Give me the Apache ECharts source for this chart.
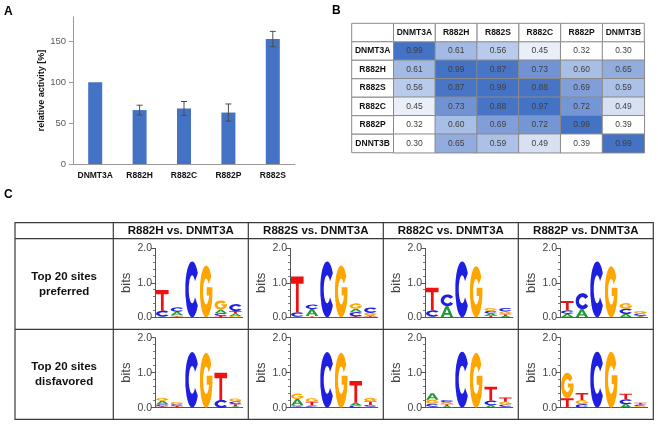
<!DOCTYPE html>
<html>
<head>
<meta charset="utf-8">
<script src="https://cdn.jsdelivr.net/npm/echarts@6/dist/echarts.min.js"></script>
<style>
  html, body { margin: 0; padding: 0; background: #fff; }
  #chart { width: 658px; height: 424px; }
</style>
</head>
<body>
<div id="chart"></div>
<script>
// ---- panel A: relative activity ----
const activityCategories = ['DNMT3A', 'R882H', 'R882C', 'R882P', 'R882S'];
const activityValues = [100, 66, 68, 63, 153];
const activityErrors = [0, 6, 8.5, 10.5, 9.4];
const activityTicks = [0, 50, 100, 150];

// ---- panel B: correlation table ----
const corrCols = ['DNMT3A', 'R882H', 'R882S', 'R882C', 'R882P', 'DNMT3B'];
const corrRows = ['DNMT3A', 'R882H', 'R882S', 'R882C', 'R882P', 'DNNT3B'];
const corrValues = [
  [0.99, 0.61, 0.56, 0.45, 0.32, 0.30],
  [0.61, 0.99, 0.87, 0.73, 0.60, 0.65],
  [0.56, 0.87, 0.99, 0.88, 0.69, 0.59],
  [0.45, 0.73, 0.88, 0.97, 0.72, 0.49],
  [0.32, 0.60, 0.69, 0.72, 0.99, 0.39],
  [0.30, 0.65, 0.59, 0.49, 0.39, 0.99]
];

// ---- panel C: sequence logos (each position: [letter, bits] from bottom to top) ----
const logoColTitles = ['R882H vs. DNMT3A', 'R882S vs. DNMT3A', 'R882C vs. DNMT3A', 'R882P vs. DNMT3A'];
const logoRowTitles = ['Top 20 sites\npreferred', 'Top 20 sites\ndisfavored'];
const logoPositions = ['1', '2', '3', '4', '5', '6'];
const bitsTicks = [0, 1, 2];

const logoR882HPreferred = [
  [['A', 0.02], ['C', 0.17], ['T', 0.6]],
  [['T', 0.03], ['G', 0.03], ['A', 0.1], ['C', 0.13]],
  [['C', 1.62]],
  [['G', 1.5]],
  [['T', 0.04], ['C', 0.08], ['A', 0.1], ['G', 0.27]],
  [['G', 0.04], ['A', 0.06], ['T', 0.08], ['C', 0.2]]
];
const logoR882SPreferred = [
  [['A', 0.02], ['C', 0.12], ['T', 1.04]],
  [['G', 0.02], ['T', 0.02], ['A', 0.2], ['C', 0.13]],
  [['C', 1.62]],
  [['G', 1.5]],
  [['T', 0.03], ['C', 0.12], ['A', 0.1], ['G', 0.15]],
  [['T', 0.03], ['A', 0.03], ['G', 0.07], ['C', 0.15]]
];
const logoR882CPreferred = [
  [['A', 0.02], ['C', 0.18], ['T', 0.66]],
  [['A', 0.32], ['C', 0.34]],
  [['C', 1.62]],
  [['G', 1.48]],
  [['T', 0.05], ['A', 0.06], ['C', 0.08], ['G', 0.08]],
  [['A', 0.04], ['T', 0.05], ['G', 0.08], ['C', 0.1]]
];
const logoR882PPreferred = [
  [['A', 0.1], ['C', 0.1], ['T', 0.27]],
  [['A', 0.23], ['C', 0.47]],
  [['C', 1.62]],
  [['G', 1.48]],
  [['A', 0.1], ['C', 0.15], ['G', 0.16]],
  [['A', 0.02], ['T', 0.03], ['C', 0.06], ['G', 0.07]]
];
const logoR882HDisfavored = [
  [['T', 0.04], ['C', 0.06], ['A', 0.1], ['G', 0.08]],
  [['A', 0.02], ['T', 0.03], ['C', 0.05], ['G', 0.06]],
  [['C', 1.59]],
  [['G', 1.57]],
  [['C', 0.22], ['T', 0.78]],
  [['A', 0.04], ['T', 0.06], ['C', 0.08], ['G', 0.08]]
];
const logoR882SDisfavored = [
  [['T', 0.03], ['C', 0.04], ['A', 0.18], ['G', 0.15]],
  [['A', 0.03], ['C', 0.03], ['T', 0.11], ['G', 0.1]],
  [['C', 1.59]],
  [['G', 1.57]],
  [['C', 0.06], ['A', 0.08], ['T', 0.62]],
  [['A', 0.03], ['C', 0.05], ['T', 0.1], ['G', 0.1]]
];
const logoR882CDisfavored = [
  [['T', 0.03], ['C', 0.08], ['G', 0.12], ['A', 0.18]],
  [['A', 0.05], ['T', 0.05], ['G', 0.06], ['C', 0.06]],
  [['C', 1.6]],
  [['G', 1.57]],
  [['A', 0.07], ['C', 0.13], ['T', 0.4]],
  [['A', 0.03], ['C', 0.06], ['G', 0.08], ['T', 0.12]]
];
const logoR882PDisfavored = [
  [['T', 0.27], ['G', 0.73]],
  [['C', 0.1], ['G', 0.12], ['T', 0.2]],
  [['C', 1.6]],
  [['G', 1.6]],
  [['A', 0.1], ['C', 0.14], ['T', 0.16]],
  [['A', 0.02], ['G', 0.03], ['C', 0.04], ['T', 0.05]]
];
const logoPanels = [
  logoR882HPreferred, logoR882SPreferred, logoR882CPreferred, logoR882PPreferred,
  logoR882HDisfavored, logoR882SDisfavored, logoR882CDisfavored, logoR882PDisfavored
];

// ---- styling ----
const FONT = '"Liberation Sans", Arial, sans-serif';
const LETTERS = ['A', 'C', 'G', 'T'];
const letterColors = { A: '#1e9a3a', C: '#1f1fe0', G: '#ffa500', T: '#f01010' };
const letterPaths = {
  A: 'M0,100 L38,0 L62,0 L100,100 L77,100 L69,77 L31,77 L23,100 Z M37,60 L63,60 L50,24 Z',
  C: 'M91,21.3 A50,50 0 1 0 91,78.7 L70.5,64.3 A25,25 0 1 1 70.5,35.7 Z',
  G: 'M91,21.3 A50,50 0 1 0 100,50 L100,42 L54,42 L54,58 L73.7,58 A25,25 0 1 1 70.5,35.7 Z',
  T: 'M0,0 L100,0 L100,20 L61,20 L61,100 L39,100 L39,20 L0,20 Z'
};

const chart = echarts.init(document.getElementById('chart'));

// grid layout
const grids = [
  { left: 73, top: 17, width: 222, height: 147, outerBoundsMode: 'none' },
  { left: 351.7, top: 23.3, width: 292.6, height: 129.4, outerBoundsMode: 'none' }
];
const logoLefts = [155, 290, 425, 560];
const logoTops = [248.3, 337.7];
const logoHeights = [69, 70];
logoPanels.forEach((_, k) => {
  const r = Math.floor(k / 4), c = k % 4;
  grids.push({ left: logoLefts[c], top: logoTops[r], width: 87.7, height: logoHeights[r], outerBoundsMode: 'none' });
});

const xAxes = [
  {
    gridIndex: 0, type: 'category', data: activityCategories,
    axisLine: { lineStyle: { color: '#9a9a9a' } },
    axisTick: { length: 4, lineStyle: { color: '#9a9a9a' } },
    axisLabel: { color: '#111', fontFamily: FONT, fontWeight: 'bold', fontSize: 8.5, margin: 7, interval: 0 }
  },
  { gridIndex: 1, type: 'category', data: [''].concat(corrCols), show: false }
];
const yAxes = [
  {
    gridIndex: 0, type: 'value', min: 0, max: 180,
    name: 'relative activity [%]', nameLocation: 'middle', nameGap: 25,
    nameTextStyle: { color: '#111', fontFamily: FONT, fontWeight: 'bold', fontSize: 9 },
    axisLine: { show: true, lineStyle: { color: '#9a9a9a' } },
    axisTick: { show: true, length: 4, customValues: activityTicks, lineStyle: { color: '#9a9a9a' } },
    axisLabel: { customValues: activityTicks, color: '#595959', fontFamily: FONT, fontSize: 9.5, margin: 7 },
    splitLine: { show: false }
  },
  { gridIndex: 1, type: 'category', data: [''].concat(corrRows), inverse: true, show: false }
];
logoPanels.forEach((_, k) => {
  xAxes.push({
    gridIndex: k + 2, type: 'category', data: logoPositions,
    axisLine: { lineStyle: { color: '#555', width: 1 } },
    axisTick: { alignWithLabel: true, length: 3, lineStyle: { color: '#555' } },
    axisLabel: { show: false }
  });
  yAxes.push({
    gridIndex: k + 2, type: 'value', min: 0, max: 2, interval: 1,
    name: 'bits', nameLocation: 'middle', nameGap: 22,
    nameTextStyle: { color: '#444', fontFamily: FONT, fontSize: 13 },
    axisLine: { show: true, lineStyle: { color: '#555' } },
    axisTick: { show: true, length: 4, customValues: bitsTicks, lineStyle: { color: '#555' } },
    minorTick: { show: true, splitNumber: 5, length: 2, lineStyle: { color: '#777' } },
    axisLabel: { customValues: bitsTicks, formatter: v => v.toFixed(1), color: '#444', fontFamily: FONT, fontSize: 10.5, margin: 3 },
    splitLine: { show: false }
  });
});

// data built from arrays
const errorData = [];
activityCategories.forEach((c, i) => {
  if (activityErrors[i] > 0) {
    errorData.push([i, activityValues[i] - activityErrors[i], activityValues[i] + activityErrors[i]]);
  }
});

const heatData = [];
corrValues.forEach((row, r) => row.forEach((v, c) => heatData.push([c + 1, r + 1, v])));

const headerCells = [{ x: 0, y: 0, text: '' }];
corrCols.forEach((t, i) => headerCells.push({ x: i + 1, y: 0, text: t }));
corrRows.forEach((t, i) => headerCells.push({ x: 0, y: i + 1, text: t }));

function stackLogo(columns) {
  const out = [];
  columns.forEach((stack, pos) => {
    let base = 0;
    stack.forEach(([letter, bits]) => {
      out.push([pos, base, base + bits, LETTERS.indexOf(letter)]);
      base += bits;
    });
  });
  return out;
}

const series = [
  {
    type: 'bar', xAxisIndex: 0, yAxisIndex: 0, data: activityValues,
    barWidth: 14, itemStyle: { color: '#4472c4' }
  },
  {
    type: 'custom', xAxisIndex: 0, yAxisIndex: 0, data: errorData, z: 5,
    renderItem: (params, api) => {
      const lo = api.coord([api.value(0), api.value(1)]);
      const hi = api.coord([api.value(0), api.value(2)]);
      const w = 3;
      const st = { stroke: '#4d4d4d', lineWidth: 1 };
      return {
        type: 'group', children: [
          { type: 'line', shape: { x1: hi[0], y1: hi[1], x2: lo[0], y2: lo[1] }, style: st },
          { type: 'line', shape: { x1: hi[0] - w, y1: hi[1], x2: hi[0] + w, y2: hi[1] }, style: st },
          { type: 'line', shape: { x1: lo[0] - w, y1: lo[1], x2: lo[0] + w, y2: lo[1] }, style: st }
        ]
      };
    }
  },
  {
    type: 'heatmap', xAxisIndex: 1, yAxisIndex: 1, data: heatData,
    itemStyle: { borderColor: '#8a8a8a', borderWidth: 1 },
    label: {
      show: true, formatter: p => p.value[2].toFixed(2),
      color: '#404040', fontFamily: FONT, fontSize: 8.5
    },
    emphasis: { disabled: true }
  },
  {
    type: 'custom', xAxisIndex: 1, yAxisIndex: 1,
    data: headerCells.map(h => [h.x, h.y]),
    renderItem: (params, api) => {
      const c = api.coord([api.value(0), api.value(1)]);
      const s = api.size([1, 1]);
      return {
        type: 'group', children: [
          { type: 'rect', shape: { x: c[0] - s[0] / 2, y: c[1] - s[1] / 2, width: s[0], height: s[1] },
            style: { fill: '#fff', stroke: '#8a8a8a', lineWidth: 1 } },
          { type: 'text', x: c[0], y: c[1],
            style: { text: headerCells[params.dataIndex].text, align: 'center', verticalAlign: 'middle',
                     fill: '#111', font: 'bold 8.5px ' + FONT } }
        ]
      };
    }
  }
];

logoPanels.forEach((cols, k) => {
  series.push({
    type: 'custom', xAxisIndex: k + 2, yAxisIndex: k + 2,
    data: stackLogo(cols),
    encode: { x: 0, y: [1, 2] },
    renderItem: (params, api) => {
      const p0 = api.coord([api.value(0), api.value(1)]);
      const p1 = api.coord([api.value(0), api.value(2)]);
      const bw = api.size([1, 0])[0] * 0.86;
      const letter = LETTERS[api.value(3)];
      return {
        type: 'path',
        shape: { pathData: letterPaths[letter], x: p0[0] - bw / 2, y: p1[1], width: bw, height: Math.max(p0[1] - p1[1], 0.3), layout: 'cover' },
        style: { fill: letterColors[letter] }
      };
    }
  });
});

// panel C table frame and labels
const colEdges = [15, 113.3, 248.3, 383.3, 518.3, 653.3];
const rowEdges = [222.7, 238.7, 329.3, 419.3];
const lineStyle = { stroke: '#3a3a3a', lineWidth: 1.2 };
const graphic = [
  { type: 'text', left: 4, top: 6, style: { text: 'A', font: 'bold 12px ' + FONT, fill: '#000' } },
  { type: 'text', left: 332, top: 5, style: { text: 'B', font: 'bold 12px ' + FONT, fill: '#000' } },
  { type: 'text', left: 4, top: 189, style: { text: 'C', font: 'bold 12px ' + FONT, fill: '#000' } },
  { type: 'rect', shape: { x: colEdges[0], y: rowEdges[0], width: colEdges[5] - colEdges[0], height: rowEdges[3] - rowEdges[0] },
    style: { fill: 'none', stroke: '#3a3a3a', lineWidth: 1.2 } }
];
colEdges.slice(1, 5).forEach(x => graphic.push({ type: 'line', shape: { x1: x, y1: rowEdges[0], x2: x, y2: rowEdges[3] }, style: lineStyle }));
rowEdges.slice(1, 3).forEach(y => graphic.push({ type: 'line', shape: { x1: colEdges[0], y1: y, x2: colEdges[5], y2: y }, style: lineStyle }));
logoColTitles.forEach((t, i) => graphic.push({
  type: 'text', x: (colEdges[i + 1] + colEdges[i + 2]) / 2, y: (rowEdges[0] + rowEdges[1]) / 2 + 0.5,
  style: { text: t, align: 'center', verticalAlign: 'middle', font: 'bold 11.5px ' + FONT, fill: '#111' }
}));
logoRowTitles.forEach((t, i) => graphic.push({
  type: 'text', x: (colEdges[0] + colEdges[1]) / 2, y: (rowEdges[i + 1] + rowEdges[i + 2]) / 2,
  style: { text: t, align: 'center', verticalAlign: 'middle', lineHeight: 15, font: 'bold 11.5px ' + FONT, fill: '#111' }
}));

chart.setOption({
  animation: false,
  backgroundColor: '#fff',
  grid: grids,
  xAxis: xAxes,
  yAxis: yAxes,
  visualMap: {
    show: false, type: 'continuous', seriesIndex: 2, dimension: 2, min: 0.30, max: 0.99,
    inRange: { color: ['#ffffff', '#ffffff', '#d5dff2', '#a9bfe6', '#7f9dd8', '#5a82cb', '#4472c4', '#4472c4'] }
  },
  series: series,
  graphic: graphic
});
</script>
</body>
</html>
